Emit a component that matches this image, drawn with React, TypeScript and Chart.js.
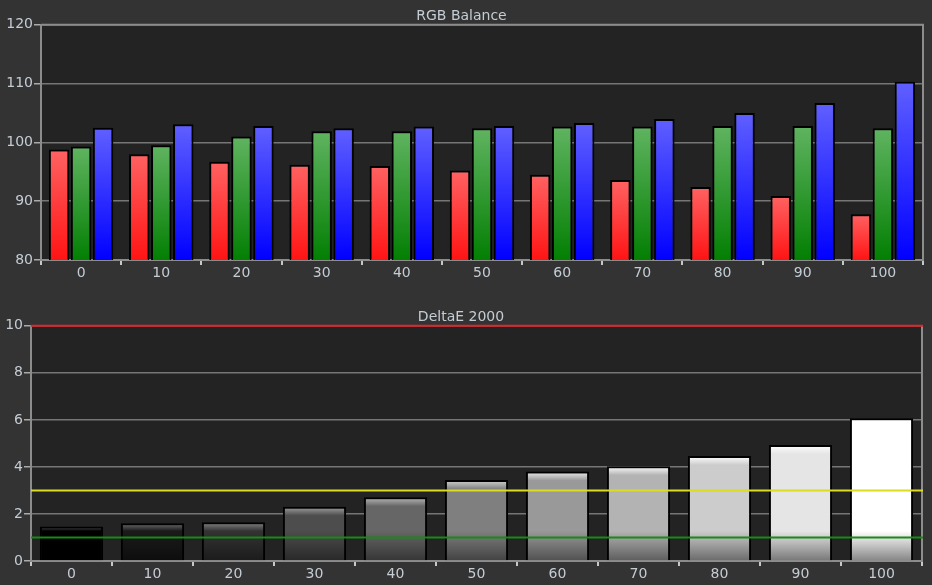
import React, { useEffect, useRef } from "react";
import { Chart, registerables } from "chart.js";

Chart.register(...registerables);

const levels = ["0", "10", "20", "30", "40", "50", "60", "70", "80", "90", "100"];
const redValues = [98.8, 98.0, 96.7, 96.2, 96.0, 95.2, 94.5, 93.6, 92.4, 90.9, 87.8];
const greenValues = [99.3, 99.5, 101.0, 101.9, 101.9, 102.4, 102.7, 102.7, 102.8, 102.8, 102.4];
const blueValues = [102.5, 103.1, 102.8, 102.4, 102.7, 102.8, 103.3, 104.0, 105.0, 106.7, 110.3];
const deltaE = [1.47, 1.6, 1.65, 2.31, 2.71, 3.44, 3.8, 4.03, 4.46, 4.93, 6.07];
const deltaLimits = [10, 3, 1];
const limitColors = ["#e0262a", "#dcdc22", "#178a17"];

const FONT = "'DejaVu Sans', sans-serif";
const TEXT = "#c4ccd4";

// vertical gradient per bar, from its top down to the axis
const barGradient = (ctx: any, stops: [number, string][]) => {
	const chart = ctx.chart;
	if (!chart.chartArea) return stops[stops.length - 1][1];
	const y = chart.scales.y;
	const v = ctx.parsed ? ctx.parsed.y : ctx.raw;
	const top = y.getPixelForValue(v);
	const bottom = y.getPixelForValue(y.min);
	if (!isFinite(top) || bottom - top < 1) return stops[0][1];
	const g = chart.ctx.createLinearGradient(0, top, 0, bottom);
	const h = bottom - top;
	stops.forEach(([px, c]) => {
		const p = px < 0 ? 1 + px / h : px / h;
		g.addColorStop(Math.min(1, Math.max(0, p)), c);
	});
	return g;
};

const rgbStops = (light: string, dark: string): [number, string][] => [
	[0, light],
	[-0.0001, dark],
];

const grayColor = (g: number) => {
	const c = Math.max(0, Math.min(255, Math.round(g)));
	return `rgb(${c},${c},${c})`;
};

const frame = (topLine: boolean) => ({
	id: "frame",
	beforeDraw(chart: any) {
		const { ctx, chartArea: a } = chart;
		ctx.save();
		ctx.fillStyle = "#333333";
		ctx.fillRect(0, 0, chart.width, chart.height);
		ctx.fillStyle = "#232323";
		ctx.fillRect(a.left, a.top, a.right - a.left, a.bottom - a.top);
		ctx.restore();
	},
	afterDraw(chart: any) {
		const { ctx, chartArea: a } = chart;
		ctx.save();
		ctx.strokeStyle = "#8c8c8c";
		ctx.lineWidth = 2;
		ctx.beginPath();
		if (topLine) {
			ctx.moveTo(a.left, a.top);
			ctx.lineTo(a.right, a.top);
		} else {
			ctx.moveTo(a.right, a.top);
		}
		ctx.lineTo(a.right, a.bottom);
		ctx.stroke();
		ctx.restore();
	},
});

const limitLines = {
	id: "limitLines",
	afterDraw(chart: any) {
		const { ctx, chartArea: a, scales } = chart;
		ctx.save();
		deltaLimits.forEach((v, i) => {
			const y = scales.y.getPixelForValue(v);
			ctx.strokeStyle = limitColors[i];
			ctx.lineWidth = 2;
			ctx.beginPath();
			ctx.moveTo(a.left, y);
			ctx.lineTo(a.right + 1, y);
			ctx.stroke();
		});
		ctx.restore();
	},
};

const axes = (min: number, max: number, step: number, yWidth: number, xHeight: number) => ({
	x: {
		grid: {
			offset: true,
			drawOnChartArea: false,
			tickLength: 5,
			tickColor: "#c8c8c8",
			lineWidth: 2,
		},
		border: { color: "#8c8c8c", width: 2 },
		ticks: { color: TEXT, font: { family: FONT, size: 14 }, padding: 0 },
		afterFit: (s: any) => {
			s.height = xHeight;
		},
	},
	y: {
		min,
		max,
		ticks: { stepSize: step, color: TEXT, font: { family: FONT, size: 14 }, padding: 1 },
		grid: { color: "#767676", lineWidth: 1.5, tickLength: 7, tickColor: "#aaaaaa" },
		border: { color: "#8c8c8c", width: 2 },
		afterFit: (s: any) => {
			s.width = yWidth;
		},
	},
});

const title = (text: string) => ({
	display: true,
	text,
	color: TEXT,
	font: { family: FONT, size: 14, weight: "normal" as const },
	padding: { top: 8, bottom: 0 },
});

const RgbChart = () => {
	const ref = useRef<HTMLCanvasElement>(null);
	useEffect(() => {
		const chart = new Chart(ref.current!, {
			type: "bar",
			data: {
				labels: levels,
				datasets: [
					{ label: "Red", data: redValues, backgroundColor: (c: any) => barGradient(c, rgbStops("#ff6262", "#ff1414")) },
					{ label: "Green", data: greenValues, backgroundColor: (c: any) => barGradient(c, rgbStops("#60b460", "#037f03")) },
					{ label: "Blue", data: blueValues, backgroundColor: (c: any) => barGradient(c, rgbStops("#6060ff", "#0000ff")) },
				],
			},
			options: {
				responsive: false,
				animation: false,
				layout: { padding: { left: 0, right: 9, top: 0, bottom: 0 } },
				datasets: {
					bar: {
						categoryPercentage: 0.823,
						barPercentage: 0.93,
						borderColor: "#000000",
						borderWidth: 2,
					},
				},
				plugins: { legend: { display: false }, tooltip: { enabled: false }, title: title("RGB Balance") },
				scales: axes(80, 120, 10, 41, 30) as any,
			},
			plugins: [frame(true)],
		});
		return () => chart.destroy();
	}, []);
	return <canvas ref={ref} width={932} height={290} style={{ position: "absolute", left: 0, top: 0 }} />;
};

const DeltaChart = () => {
	const ref = useRef<HTMLCanvasElement>(null);
	useEffect(() => {
		const chart = new Chart(ref.current!, {
			type: "bar",
			data: {
				labels: levels,
				datasets: [
					{
						label: "DeltaE 2000",
						data: deltaE,
						backgroundColor: (c: any) => {
							const base = 2.55 * Number(levels[c.dataIndex] ?? 0);
							return barGradient(c, [
								[0, grayColor(base + 85)],
								[9, grayColor(base)],
								[-30, grayColor(base)],
								[-0.0001, grayColor(base * 0.52)],
							]);
						},
					},
				],
			},
			options: {
				responsive: false,
				animation: false,
				layout: { padding: { left: 0, right: 10, top: 0, bottom: 0 } },
				datasets: {
					bar: {
						categoryPercentage: 0.78,
						barPercentage: 1,
						borderColor: "#000000",
						borderWidth: 2,
					},
				},
				plugins: { legend: { display: false }, tooltip: { enabled: false }, title: title("DeltaE 2000") },
				scales: axes(0, 10, 2, 31, 24) as any,
			},
			plugins: [frame(false), limitLines],
		});
		return () => chart.destroy();
	}, []);
	return <canvas ref={ref} width={932} height={284} style={{ position: "absolute", left: 0, top: 301 }} />;
};

export default function App() {
	return (
		<div style={{ position: "fixed", left: 0, top: 0, width: 932, height: 585, background: "#333333", overflow: "hidden" }}>
			<RgbChart />
			<DeltaChart />
		</div>
	);
}
